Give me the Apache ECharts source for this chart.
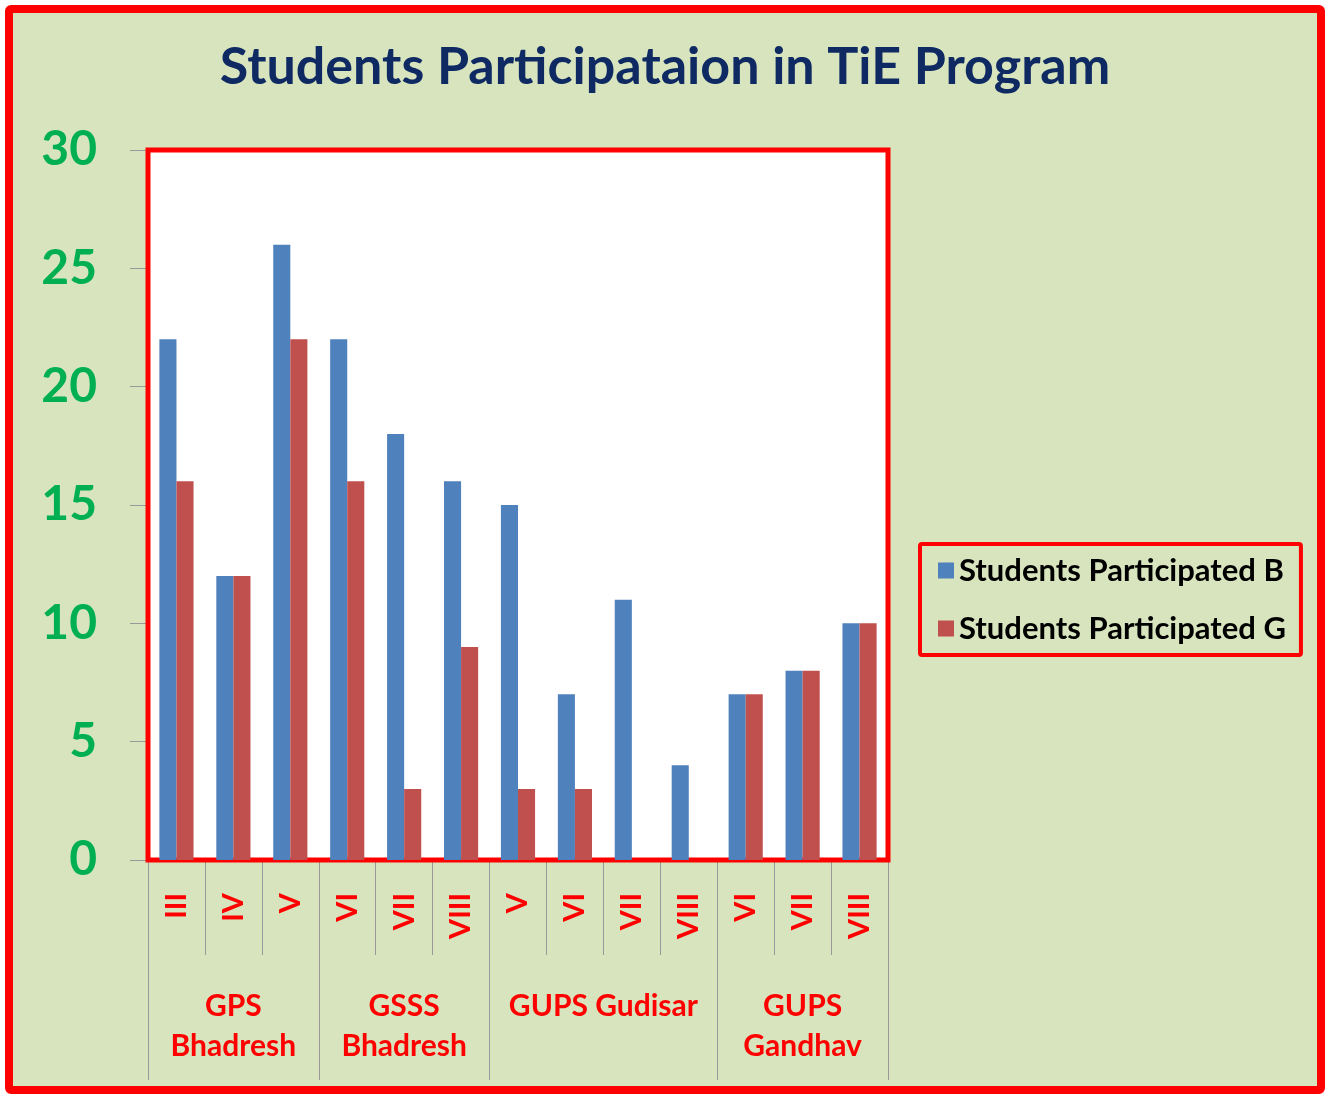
<!DOCTYPE html>
<html>
<head>
<meta charset="utf-8">
<script src="https://cdn.jsdelivr.net/npm/echarts@6/dist/echarts.min.js"></script>
<style>
  html, body { margin: 0; padding: 0; background: #ffffff; }
  #bg { position: absolute; left: 5px; top: 5px; width: 1320px; height: 1089px; box-sizing: border-box;
        border: 8px solid #ff0000; border-radius: 6px; background: #d7e4bd; }
  #chart { position: absolute; left: 0; top: 0; width: 1330px; height: 1095px; }
</style>
</head>
<body>
<div id="bg"></div>
<div id="chart"></div>
<script>
const titleText = 'Students Participataion in TiE Program';
const classLabels = ['III', 'IV', 'V', 'VI', 'VII', 'VIII', 'V', 'VI', 'VII', 'VIII', 'VI', 'VII', 'VIII'];
const groupLabels = ['GPS\nBhadresh', 'GSSS\nBhadresh', 'GUPS Gudisar', 'GUPS\nGandhav'];
const groupSizes = [3, 3, 4, 3];
const seriesNames = ['Students Participated B', 'Students Participated G'];
const boysValues = [22, 12, 26, 22, 18, 16, 15, 7, 11, 4, 7, 8, 10];
const girlsValues = [16, 12, 22, 16, 3, 9, 3, 3, 0, 0, 7, 8, 10];
const yTicks = { min: 0, max: 30, interval: 5 };

// half-category points for the group axis
const nHalf = classLabels.length * 2 + 1;
const groupAxisData = new Array(nHalf).fill('');
const boundaryIdx = new Set();
const centerIdx = new Set();
let start = 0;
boundaryIdx.add(0);
groupSizes.forEach((s, i) => {
  const c = start * 2 + s;
  groupAxisData[c] = groupLabels[i];
  centerIdx.add(c);
  start += s;
  boundaryIdx.add(start * 2);
});

const font = 'Lato';
const chart = echarts.init(document.getElementById('chart'));
chart.setOption({
  backgroundColor: 'transparent',
  animation: false,
  title: {
    text: titleText,
    left: 'center',
    top: 38,
    padding: 0,
    textStyle: { fontFamily: font, fontWeight: 'bold', fontSize: 52, lineHeight: 58, color: '#0f2a63' }
  },
  legend: {
    orient: 'vertical',
    left: 920,
    top: 544,
    padding: [11, 15, 11, 18],
    itemGap: 27,
    itemWidth: 16,
    itemHeight: 16,
    icon: 'rect',
    borderColor: '#ff0000',
    borderWidth: 4,
    borderRadius: 2,
    textStyle: { fontFamily: font, fontWeight: 'bold', fontSize: 31, lineHeight: 30, color: '#000000' },
    data: seriesNames
  },
  grid: {
    left: 148, top: 150, width: 740, height: 710,
    show: true, backgroundColor: '#ffffff', borderColor: '#ff0000', borderWidth: 5, z: 3
  },
  xAxis: [
    {
      type: 'category',
      data: classLabels,
      position: 'bottom',
      axisLine: { show: false },
      axisTick: { show: true, length: 95, lineStyle: { color: '#999999', width: 1 } },
      axisLabel: {
        interval: 0, rotate: 90, margin: 33,
        fontFamily: font, fontWeight: 'bold', fontSize: 29, color: '#ff0000'
      },
      z: 1
    },
    {
      type: 'category',
      data: groupAxisData,
      boundaryGap: false,
      position: 'bottom',
      axisLine: { show: false },
      axisTick: {
        show: true, length: 220,
        interval: (idx) => boundaryIdx.has(idx),
        lineStyle: { color: '#999999', width: 1 }
      },
      axisLabel: {
        interval: (idx) => centerIdx.has(idx),
        margin: 126,
        fontFamily: font, fontWeight: 'bold', fontSize: 30, lineHeight: 40, color: '#ff0000'
      },
      z: 1
    }
  ],
  yAxis: {
    type: 'value',
    min: yTicks.min, max: yTicks.max, interval: yTicks.interval,
    axisLine: { show: false },
    axisTick: { show: true, length: 18, lineStyle: { color: '#999999' } },
    splitLine: { show: true, lineStyle: { color: '#a6a6a6', width: 1 } },
    axisLabel: { margin: 51, fontFamily: font, fontWeight: 'bold', fontSize: 48, color: '#00b050' }
  },
  series: [
    {
      name: seriesNames[0], type: 'bar', data: boysValues,
      barGap: '0%', barCategoryGap: '40%',
      itemStyle: { color: '#4f81bd' },
      z: 4
    },
    {
      name: seriesNames[1], type: 'bar', data: girlsValues,
      barGap: '0%', barCategoryGap: '40%',
      itemStyle: { color: '#c0504d' },
      z: 4
    }
  ]
});
</script>
</body>
</html>
